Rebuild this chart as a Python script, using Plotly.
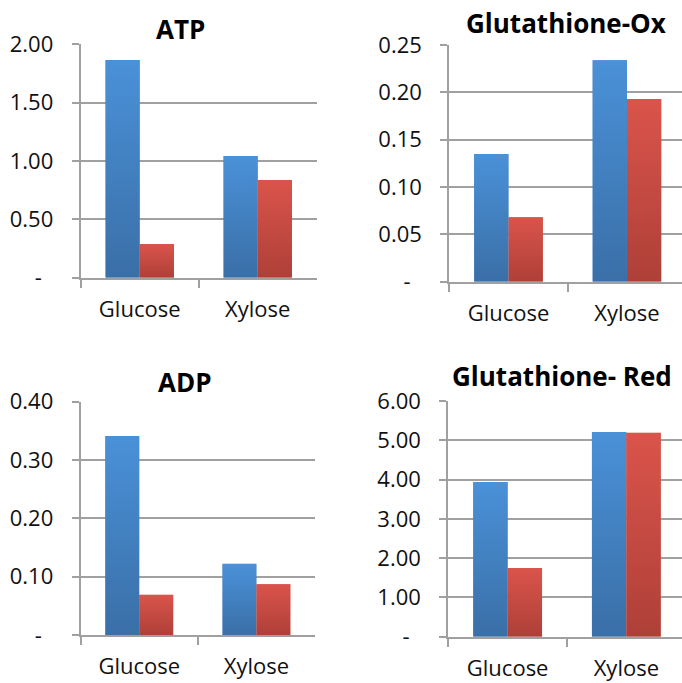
import base64
import plotly.graph_objects as go

# ---- data ----
categories = ["Glucose", "Xylose"]

atp_blue = [1.865, 1.043]
atp_red = [0.289, 0.837]

gsh_ox_blue = [0.135, 0.234]
gsh_ox_red = [0.068, 0.193]

adp_blue = [0.341, 0.122]
adp_red = [0.069, 0.087]

gsh_red_blue = [3.94, 5.21]
gsh_red_red = [1.75, 5.19]

titles = ["ATP", "Glutathione-Ox", "ADP", "Glutathione- Red"]

atp_ticks = [0, 0.5, 1.0, 1.5, 2.0]
atp_labels = ["-\u00a0\u00a0", "0.50", "1.00", "1.50", "2.00"]
ox_ticks = [0, 0.05, 0.10, 0.15, 0.20, 0.25]
ox_labels = ["-\u00a0\u00a0", "0.05", "0.10", "0.15", "0.20", "0.25"]
adp_ticks = [0, 0.1, 0.2, 0.3, 0.4]
adp_labels = ["-\u00a0\u00a0", "0.10", "0.20", "0.30", "0.40"]
red_ticks = [0, 1, 2, 3, 4, 5, 6]
red_labels = ["-\u00a0\u00a0", "1.00", "2.00", "3.00", "4.00", "5.00", "6.00"]

# ---- styling ----
FONT = "Open Sans"
GRID = "#a0a0a0"
BLUE_TOP, BLUE_MID, BLUE_BOT = "#4a91d8", "#4380c0", "#3a6fa7"
RED_TOP, RED_MID, RED_BOT = "#da544b", "#c64a42", "#ae4038"
BAR_W = 0.29


def gradient_uri(top, bottom):
    svg = (
        "<svg xmlns='http://www.w3.org/2000/svg' width='10' height='100' "
        "viewBox='0 0 10 100' preserveAspectRatio='none'>"
        "<defs><linearGradient id='g' x1='0' y1='0' x2='0' y2='1'>"
        f"<stop offset='0' stop-color='{top}'/>"
        f"<stop offset='1' stop-color='{bottom}'/>"
        "</linearGradient></defs>"
        "<rect width='10' height='100' fill='url(#g)'/></svg>"
    )
    return "data:image/svg+xml;base64," + base64.b64encode(svg.encode()).decode()


BLUE_GRAD = gradient_uri(BLUE_TOP, BLUE_BOT)
RED_GRAD = gradient_uri(RED_TOP, RED_BOT)

panels = [
    dict(blue=atp_blue, red=atp_red, ticks=atp_ticks, labels=atp_labels,
         xdom=[80.7 / 682, 316.7 / 682], xrng=[-0.5, 1.5],
         ydom=[(683 - 277.7) / 683, (683 - 44.3) / 683]),
    dict(blue=gsh_ox_blue, red=gsh_ox_red, ticks=ox_ticks, labels=ox_labels,
         xdom=[449.3 / 682, 1.0], xrng=[-0.5, 1.465],
         ydom=[(683 - 281.7) / 683, (683 - 45) / 683]),
    dict(blue=adp_blue, red=adp_red, ticks=adp_ticks, labels=adp_labels,
         xdom=[80.7 / 682, 315 / 682], xrng=[-0.5, 1.5],
         ydom=[(683 - 635) / 683, (683 - 401.7) / 683]),
    dict(blue=gsh_red_blue, red=gsh_red_red, ticks=red_ticks, labels=red_labels,
         xdom=[448.3 / 682, 1.0], xrng=[-0.5, 1.469],
         ydom=[(683 - 636.7) / 683, (683 - 401) / 683]),
]

title_pos = [(180, 29), (565.5, 23), (185, 382), (562.3, 376)]

fig = go.Figure()
layout = {}
images = []
annotations = []

for i, p in enumerate(panels):
    n = "" if i == 0 else str(i + 1)
    xa, ya = "x" + n, "y" + n
    fig.add_trace(go.Bar(x=categories, y=p["blue"], width=BAR_W, offset=-BAR_W,
                         marker=dict(color=BLUE_MID, line=dict(width=0)),
                         xaxis=xa, yaxis=ya, showlegend=False))
    fig.add_trace(go.Bar(x=categories, y=p["red"], width=BAR_W, offset=0,
                         marker=dict(color=RED_MID, line=dict(width=0)),
                         xaxis=xa, yaxis=ya, showlegend=False))
    # vertical gradient overlay for each bar, placed in data coordinates
    for j, (vb, vr) in enumerate(zip(p["blue"], p["red"])):
        for val, off, src in ((vb, -BAR_W, BLUE_GRAD), (vr, 0.0, RED_GRAD)):
            images.append(dict(source=src, xref=xa, yref=ya,
                               x=j + off, y=val, sizex=BAR_W, sizey=val,
                               xanchor="left", yanchor="top",
                               sizing="stretch", layer="above"))
    layout["xaxis" + n] = dict(
        domain=p["xdom"], anchor=ya, type="category", range=p["xrng"],
        automargin=False,
        showline=True, linecolor=GRID, linewidth=2,
        ticks="outside", tickson="boundaries", ticklen=8, tickwidth=2,
        tickcolor=GRID, showgrid=False, fixedrange=True,
        tickfont=dict(family=FONT, size=22, color="#111111"),
        ticklabelstandoff=11,
    )
    layout["yaxis" + n] = dict(
        domain=p["ydom"], anchor=xa, range=[0, p["ticks"][-1]],
        automargin=False,
        tickmode="array", tickvals=p["ticks"], ticktext=p["labels"],
        showline=True, linecolor=GRID, linewidth=2,
        ticks="outside", ticklen=7, tickwidth=2, tickcolor=GRID,
        showgrid=True, gridcolor=GRID, gridwidth=2, zeroline=False,
        tickfont=dict(family=FONT, size=22, color="#111111"),
        ticklabelstandoff=14,
    )
    tx, ty = title_pos[i]
    annotations.append(dict(text=f"<b>{titles[i]}</b>", xref="paper", yref="paper",
                            x=tx / 682, y=1 - ty / 683, xanchor="center",
                            yanchor="middle", showarrow=False,
                            font=dict(family=FONT, size=26, color="#000000")))

fig.update_layout(
    width=682, height=683,
    margin=dict(l=0, r=0, t=0, b=0),
    paper_bgcolor="white", plot_bgcolor="white",
    barmode="overlay",
    images=images, annotations=annotations,
    **layout,
)

fig.write_html("out.html", config={"displayModeBar": False})
